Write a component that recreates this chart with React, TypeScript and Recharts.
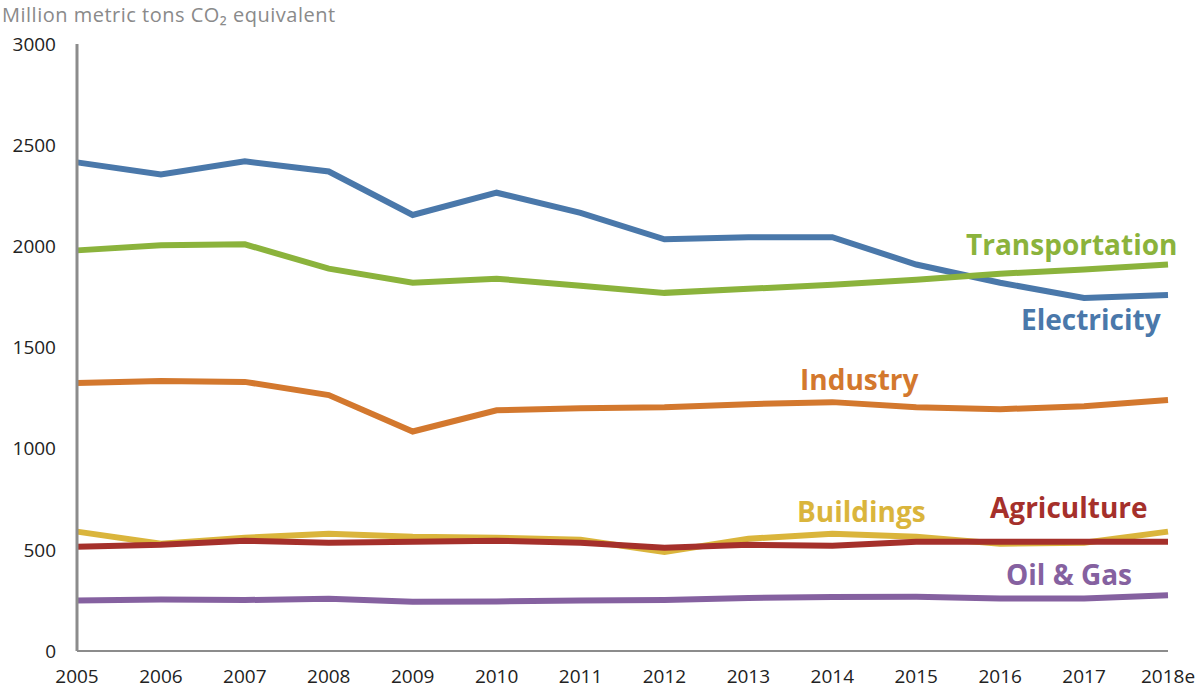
import { LineChart, Line, XAxis, YAxis, Customized } from "recharts";

// years on the x axis, 2018 is an estimate
const YEARS = ["2005", "2006", "2007", "2008", "2009", "2010", "2011", "2012", "2013", "2014", "2015", "2016", "2017", "2018e"];
const Y_TICKS = [0, 500, 1000, 1500, 2000, 2500, 3000];

const ELECTRICITY = [2415, 2355, 2420, 2370, 2155, 2265, 2165, 2035, 2045, 2045, 1910, 1820, 1745, 1760];
const TRANSPORTATION = [1980, 2005, 2010, 1890, 1820, 1840, 1805, 1770, 1790, 1810, 1835, 1865, 1885, 1910];
const INDUSTRY = [1325, 1335, 1330, 1265, 1085, 1190, 1200, 1205, 1220, 1230, 1205, 1195, 1210, 1240];
const BUILDINGS = [590, 530, 560, 580, 565, 560, 550, 490, 555, 580, 565, 530, 535, 590];
const AGRICULTURE = [515, 525, 545, 535, 540, 545, 535, 510, 525, 520, 540, 540, 540, 540];
const OIL_GAS = [250, 255, 252, 258, 243, 245, 250, 252, 262, 267, 268, 260, 260, 275];

const COLORS = {
  electricity: "#4a78aa",
  transportation: "#8bb33c",
  industry: "#d3782e",
  buildings: "#dab53c",
  agriculture: "#a5302b",
  oilgas: "#8561a0",
};

const data = YEARS.map((year, i) => ({
  year,
  electricity: ELECTRICITY[i],
  transportation: TRANSPORTATION[i],
  industry: INDUSTRY[i],
  buildings: BUILDINGS[i],
  agriculture: AGRICULTURE[i],
  oilgas: OIL_GAS[i],
}));

const FONT = "'Open Sans', sans-serif";

// series names written next to the lines
const SERIES_LABELS = [
  { text: "Transportation", x: 966, y: 255, color: COLORS.transportation },
  { text: "Electricity", x: 1021, y: 330, color: COLORS.electricity },
  { text: "Industry", x: 800, y: 390, color: COLORS.industry },
  { text: "Buildings", x: 797, y: 522, color: COLORS.buildings },
  { text: "Agriculture", x: 990, y: 518, color: COLORS.agriculture },
  { text: "Oil & Gas", x: 1006, y: 585, color: COLORS.oilgas },
];

function Labels() {
  return (
    <g>
      <text x={2} y={22} fontSize={20} letterSpacing={0.5} fill="#8a8a8a" fontFamily={FONT}>
        Million metric tons CO₂ equivalent
      </text>
      {SERIES_LABELS.map((l) => (
        <text key={l.text} x={l.x} y={l.y} fontSize={28} fontWeight={700} fill={l.color} fontFamily={FONT}>
          {l.text}
        </text>
      ))}
    </g>
  );
}

const SERIES = ["electricity", "transportation", "industry", "buildings", "agriculture", "oilgas"] as const;

export default function App() {
  return (
    <div style={{ position: "absolute", left: 0, top: 0, background: "#fff" }}>
      <LineChart width={1197} height={692} data={data} margin={{ top: 44, right: 29, bottom: 0, left: 0 }}>
        <XAxis
          dataKey="year"
          height={41}
          tickSize={0}
          tickMargin={19}
          axisLine={{ stroke: "#8c8c8c", strokeWidth: 2 }}
          tick={{ fontSize: 19, fill: "#222", fontFamily: FONT }}
          interval={0}
        />
        <YAxis
          domain={[0, 3000]}
          ticks={Y_TICKS}
          width={77}
          tickSize={0}
          tickMargin={21}
          axisLine={{ stroke: "#8c8c8c", strokeWidth: 3 }}
          tick={{ fontSize: 19, fill: "#222", fontFamily: FONT }}
        />
        {SERIES.map((k) => (
          <Line
            key={k}
            type="linear"
            dataKey={k}
            stroke={COLORS[k]}
            strokeWidth={6}
            dot={false}
            activeDot={false}
            isAnimationActive={false}
          />
        ))}
        <Customized component={Labels} />
      </LineChart>
    </div>
  );
}
